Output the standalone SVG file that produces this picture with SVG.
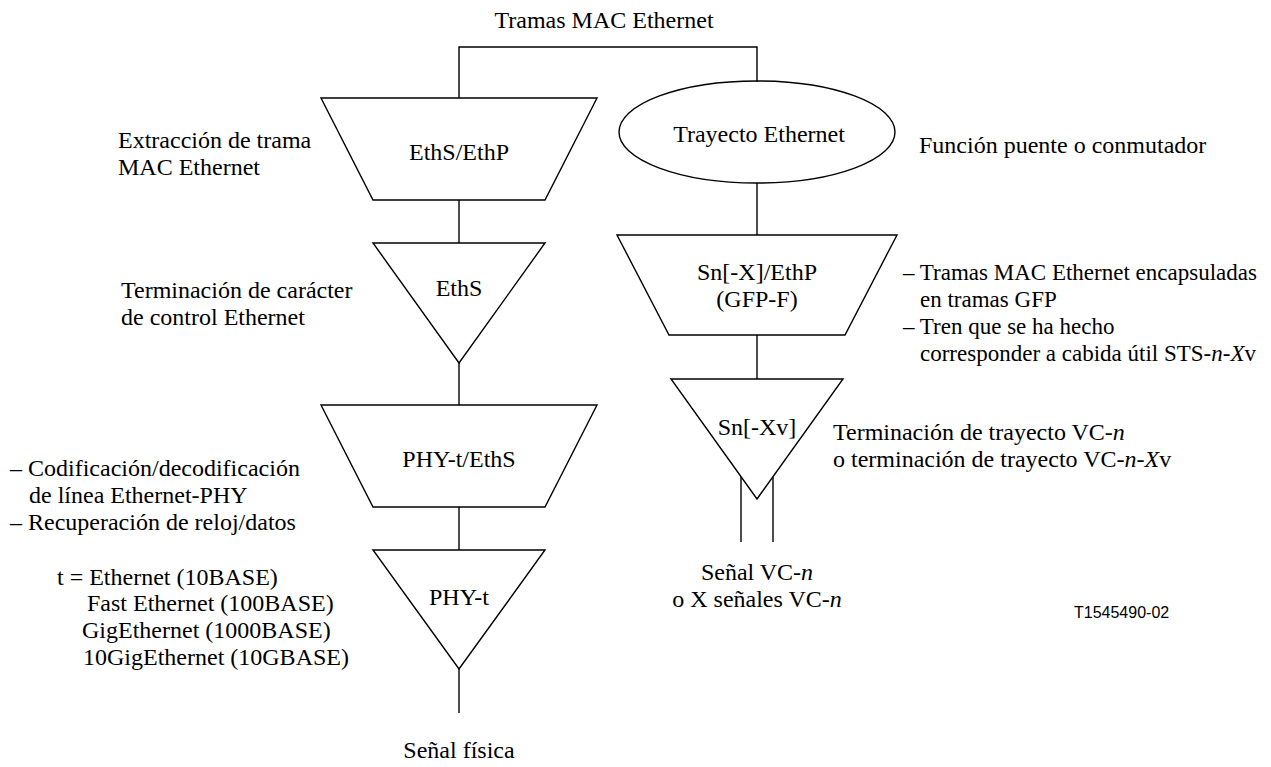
<svg xmlns="http://www.w3.org/2000/svg" width="1271" height="767" viewBox="0 0 1271 767">
  <style>
    .shape { fill: none; stroke: #000; stroke-width: 1.4; }
    .wire { fill: none; stroke: #000; stroke-width: 1.4; }
    text { font-family: "Liberation Serif", "Times New Roman", serif; font-size: 24px; fill: #000; }
    .mid { text-anchor: middle; }
    .it { font-style: italic; }
    .note { font-size: 23px; }
    .code { font-family: "Liberation Sans", Arial, sans-serif; font-size: 16px; }
  </style>

  <rect width="1271" height="767" fill="#fff"/>

  <!-- connectors -->
  <g id="connectors">
    <polyline class="wire" points="459,98 459,47 757,47 757,82"/>
    <line class="wire" x1="459" y1="200" x2="459" y2="243"/>
    <line class="wire" x1="459" y1="363" x2="459" y2="405"/>
    <line class="wire" x1="459" y1="507" x2="459" y2="550"/>
    <line class="wire" x1="459" y1="669" x2="459" y2="713"/>
    <line class="wire" x1="757" y1="183" x2="757" y2="235"/>
    <line class="wire" x1="757" y1="335" x2="757" y2="379"/>
    <line class="wire" x1="741" y1="477" x2="741" y2="542"/>
    <line class="wire" x1="773" y1="477" x2="773" y2="542"/>
  </g>

  <!-- left column -->
  <g id="eths-ethp">
    <polygon class="shape" points="321,98 597,98 545,200 373,200"/>
    <text class="mid" x="459" y="160">EthS/EthP</text>
  </g>
  <g id="eths">
    <polygon class="shape" points="373,243 545,243 459,363"/>
    <text class="mid" x="459" y="296">EthS</text>
  </g>
  <g id="phy-t-eths">
    <polygon class="shape" points="321,405 597,405 545,507 373,507"/>
    <text class="mid" x="459" y="467">PHY-t/EthS</text>
  </g>
  <g id="phy-t">
    <polygon class="shape" points="373,550 545,550 459,669"/>
    <text class="mid" x="459" y="605">PHY-t</text>
  </g>

  <!-- right column -->
  <g id="trayecto-ethernet">
    <ellipse class="shape" cx="757" cy="132" rx="138" ry="51"/>
    <text class="mid" x="759" y="142">Trayecto Ethernet</text>
  </g>
  <g id="sn-x-ethp">
    <polygon class="shape" points="617,235 897,235 845,335 669,335"/>
    <text class="mid" x="757" y="280">Sn[-X]/EthP</text>
    <text class="mid" x="757" y="307">(GFP-F)</text>
  </g>
  <g id="sn-xv">
    <polygon class="shape" points="671,379 843,379 757,499"/>
    <text class="mid" x="757" y="435">Sn[-Xv]</text>
  </g>

  <!-- annotations -->
  <g id="labels">
    <text class="mid" x="604" y="28">Tramas MAC Ethernet</text>

    <text x="118" y="148">Extracción de trama</text>
    <text x="118" y="175">MAC Ethernet</text>

    <text x="121" y="298">Terminación de carácter</text>
    <text x="121" y="325">de control Ethernet</text>

    <text x="10" y="476">– Codificación/decodificación</text>
    <text x="29" y="503">de línea Ethernet-PHY</text>
    <text x="10" y="530">– Recuperación de reloj/datos</text>

    <text x="57" y="585">t = Ethernet (10BASE)</text>
    <text x="87" y="611">Fast Ethernet (100BASE)</text>
    <text x="82" y="638">GigEthernet (1000BASE)</text>
    <text x="83" y="665">10GigEthernet (10GBASE)</text>

    <text class="mid" x="459" y="758">Señal física</text>

    <text x="919" y="153">Función puente o conmutador</text>

    <text class="note" x="903" y="280">– Tramas MAC Ethernet encapsuladas</text>
    <text class="note" x="920" y="307">en tramas GFP</text>
    <text class="note" x="903" y="334">– Tren que se ha hecho</text>
    <text class="note" x="920" y="361">corresponder a cabida útil STS-<tspan class="it">n</tspan>-<tspan class="it">X</tspan>v</text>

    <text x="833" y="440">Terminación de trayecto VC-<tspan class="it">n</tspan></text>
    <text x="833" y="467">o terminación de trayecto VC-<tspan class="it">n</tspan>-<tspan class="it">X</tspan>v</text>

    <text class="mid" x="757" y="580">Señal VC-<tspan class="it">n</tspan></text>
    <text class="mid" x="757" y="607">o X señales VC-<tspan class="it">n</tspan></text>

    <text class="code" x="1074" y="618">T1545490-02</text>
  </g>
</svg>
